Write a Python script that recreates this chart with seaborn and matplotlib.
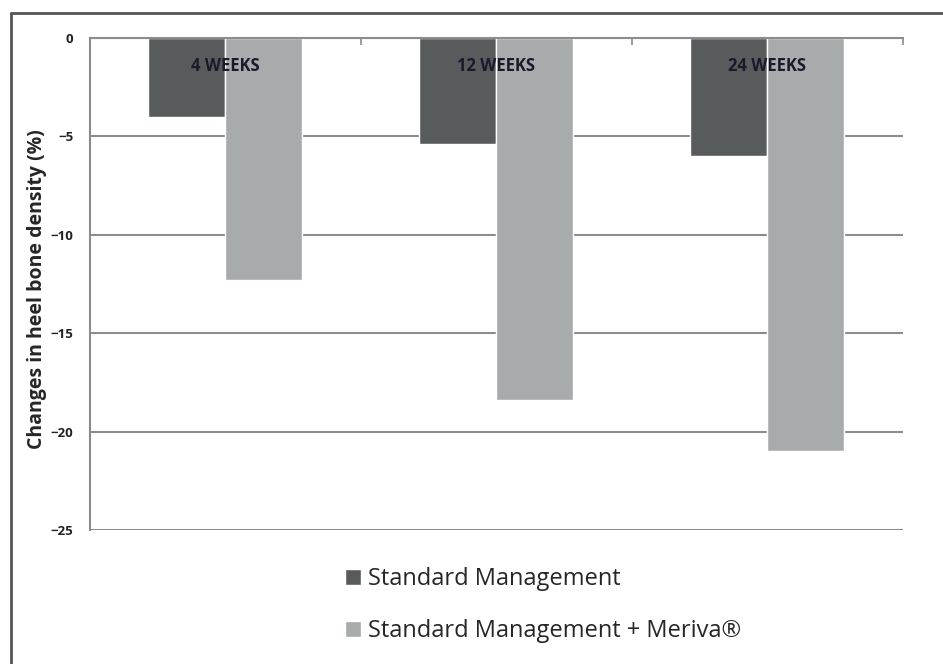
import pandas as pd
import matplotlib.pyplot as plt
from matplotlib.lines import Line2D
import seaborn as sns

weeks = ['4 WEEKS', '12 WEEKS', '24 WEEKS']
groups = ['Standard Management', 'Standard Management + Meriva®']
standard = [-4.0, -5.4, -6.0]
meriva = [-12.3, -18.4, -21.0]

df = pd.DataFrame({
    'week': weeks * 2,
    'group': [groups[0]] * 3 + [groups[1]] * 3,
    'change': standard + meriva,
})

sns.set_style("white")
plt.rcParams['font.family'] = ['Open Sans', 'DejaVu Sans']

fig = plt.figure(figsize=(9.43, 6.64), dpi=100)
ax = fig.add_axes([0.0954, 0.2018, 0.8621, 0.741])

sns.barplot(data=df, x='week', y='change', hue='group', order=weeks, hue_order=groups,
            palette=['#585b5c', '#a8abac'], width=0.568, saturation=1, ax=ax)

ax.set_ylim(-25, 0)
ax.set_xlim(-0.5, 2.5)
ax.set_yticks([0, -5, -10, -15, -20, -25])
ax.yaxis.grid(True, color='#8c8c8c', linewidth=1.5)
ax.set_axisbelow(True)
for lab in ax.get_yticklabels():
    lab.set_fontweight('bold')
ax.tick_params(axis='y', length=4, width=1.2, color='#8c8c8c', labelsize=9.5,
               labelcolor='#222222', pad=8)

# category boundaries as ticks on the zero line
ax.xaxis.tick_top()
ax.set_xticks([-0.5, 0.5, 1.5, 2.5])
ax.set_xticklabels([])
ax.tick_params(axis='x', direction='in', length=5, width=1.2, color='#8c8c8c')
ax.set_xlabel('')

for s in ['right', 'bottom']:
    ax.spines[s].set_visible(False)
for s in ['left', 'top']:
    ax.spines[s].set_color('#8c8c8c')
    ax.spines[s].set_linewidth(1.5)

for i, w in enumerate(weeks):
    ax.text(i, -1.4, w, ha='center', va='center', fontsize=12, fontweight='bold', color='#1a1a2a')

ax.set_ylabel('Changes in heel bone density (%)', fontsize=14, fontweight='bold')
ax.yaxis.set_label_coords(-0.053, 0.49)

handles, labels = ax.get_legend_handles_labels()
ax.get_legend().remove()
fig.legend(handles, labels, loc='upper left', bbox_to_anchor=(0.343, 0.178), frameon=False,
           fontsize=17, labelspacing=1.2, handlelength=0.7, handleheight=0.7, handletextpad=0.3)

# outer frame (left and top edges only)
fig.add_artist(Line2D([11 / 943, 11 / 943], [0, 1 - 13 / 664], transform=fig.transFigure,
                      color='#555555', linewidth=2))
fig.add_artist(Line2D([11 / 943, 1], [1 - 13 / 664, 1 - 13 / 664], transform=fig.transFigure,
                      color='#555555', linewidth=2))

plt.savefig('out.png', dpi=100)
